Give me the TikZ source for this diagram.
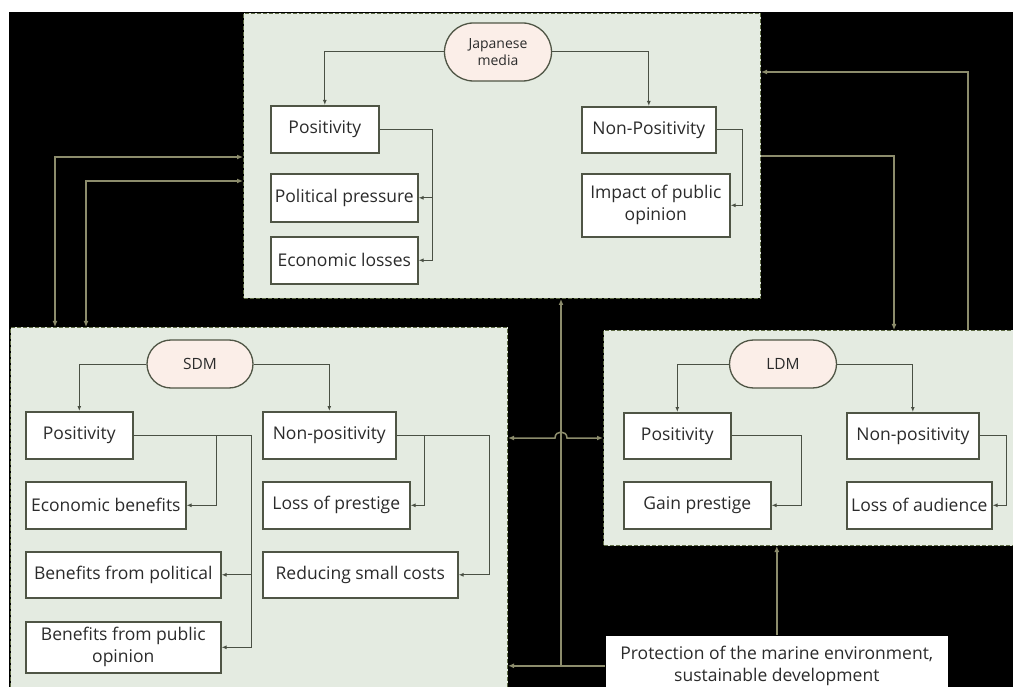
\documentclass[tikz,border=0pt]{standalone}
\usepackage{fontspec}
\setmainfont{Open Sans}
\usetikzlibrary{arrows.meta,shapes.misc}

\definecolor{panelfill}{HTML}{E4EBE1}
\definecolor{panelrule}{HTML}{5E6B45}
\definecolor{hubfill}{HTML}{FBEEE8}
\definecolor{boxrule}{HTML}{4F5545}
\definecolor{inkline}{HTML}{4A5044}
\definecolor{wirecol}{HTML}{8C8C6C}
\definecolor{inktext}{HTML}{2B2B2B}

\tikzset{
  panel/.style={draw=panelrule, dash pattern=on 4pt off 2pt, line width=1pt, fill=panelfill, inner sep=0pt, anchor=north west},
  hub/.style={rounded rectangle, draw=boxrule, line width=1.3pt, fill=hubfill, text=inktext, align=center, inner sep=0pt},
  item/.style={draw=boxrule, line width=1.6pt, fill=white, text=inktext, font=\fontsize{17.5}{22}\selectfont, align=center, inner sep=0pt, anchor=north west},
  link/.style={draw=inkline, line width=1pt, -{Latex[length=5pt,width=4pt]}},
  wire/.style={draw=wirecol, line width=1.5pt, -{Latex[length=6pt,width=5pt]}},
  twoway/.style={wire, {Latex[length=6pt,width=5pt]}-{Latex[length=6pt,width=5pt]}},
}

\begin{document}
\begin{tikzpicture}[x=1pt,y=-1pt]
% Background
\fill[white] (0,0) rectangle (1013,687);
\fill[black] (9,12) rectangle (1013,687);
\useasboundingbox (0,0) rectangle (1013,687);

% Panels
\node[panel, minimum width=517pt, minimum height=285pt] (jpanel) at (243,13) {};
\node[panel, minimum width=497pt, minimum height=372pt] (spanel) at (10,327) {};
\node[panel, minimum width=420pt, minimum height=215pt] (lpanel) at (603,330) {};

% Media hubs
\node[hub, minimum width=107pt, minimum height=58pt, font=\fontsize{14}{17}\selectfont] (jm) at (498,52) {Japanese\\media};
\node[hub, minimum width=106pt, minimum height=48pt, font=\fontsize{15.5}{17}\selectfont] (sm) at (200,364) {SDM};
\node[hub, minimum width=107pt, minimum height=48pt, font=\fontsize{15.5}{17}\selectfont] (lm) at (783,364) {LDM};

% Effect boxes
\foreach \nm/\x/\y/\w/\h/\txt in {
    jpos/270/105/108/47/Positivity,
    jpp/270/173/147/48/Political pressure,
    jel/270/236/147/47/Economic losses,
    jneg/581/106/134/46/Non-Positivity,
    jimp/581/173/148/63/{Impact of public\\opinion},
    spos/25/411/107/47/Positivity,
    seb/25/481/160/47/Economic benefits,
    sbp/25/551/195/46/Benefits from political,
    sbo/25/621/195/51/{Benefits from public\\opinion},
    sneg/262/411/133/47/Non-positivity,
    slp/262/481/147/47/Loss of prestige,
    src/262/551/195/46/Reducing small costs,
    lpos/623/412/107/46/Positivity,
    lgp/623/481/147/47/Gain prestige,
    lneg/846/412/132/46/Non-positivity,
    lla/846/481/145/47/Loss of audience} {
  \node[item, minimum width=\w pt, minimum height=\h pt] (\nm) at (\x,\y) {\txt};
}

% Goal
\node[item, draw=none, minimum width=342pt, minimum height=60pt] (goal) at (605,635) {Protection of the marine environment,\\sustainable development};

% Hub to first level
\foreach \hb/\pos/\neg in {jm/jpos/jneg, sm/spos/sneg, lm/lpos/lneg} {
  \draw[link] (\hb.west) -| (\pos.north);
  \draw[link] (\hb.east) -| (\neg.north);
}

% First level to effects
\foreach \src/\dst/\gap in {jpos/jpp/14pt, jpos/jel/14pt, jneg/jimp/12pt,
    spos/seb/30pt, spos/sbp/30pt, spos/sbo/30pt, sneg/slp/14pt, sneg/src/31pt,
    lpos/lgp/30pt, lneg/lla/14pt} {
  \draw[link] (\src.east) -| ([xshift=\gap]\dst.east) -- (\dst.east);
}

% Links between panels
\coordinate (lbusA) at (55,157);
\coordinate (lbusB) at (86,181);
\coordinate (rbusA) at (968,72);
\coordinate (rbusB) at (894,156);
\coordinate (cbus) at (561,438);

\draw[twoway] (jpanel.west |- lbusA) -| (spanel.north -| lbusA);
\draw[twoway] (jpanel.west |- lbusB) -| (spanel.north -| lbusB);
\draw[wire] (lpanel.north -| rbusA) |- (jpanel.east |- rbusA);
\draw[wire] (jpanel.east |- rbusB) -| (lpanel.north -| rbusB);
\draw[twoway] (spanel.east |- cbus) -- ([xshift=-6pt]cbus)
  .. controls ([xshift=-6pt,yshift=8pt]cbus) and ([xshift=6pt,yshift=8pt]cbus) .. ([xshift=6pt]cbus)
  -- (lpanel.west |- cbus);
\draw[wire] (goal.west -| cbus) -- (jpanel.south -| cbus);
\draw[wire] (goal.west) -- (goal.west -| spanel.east);
\draw[wire] (goal.north) -- (goal.north |- lpanel.south);

\end{tikzpicture}
\end{document}
